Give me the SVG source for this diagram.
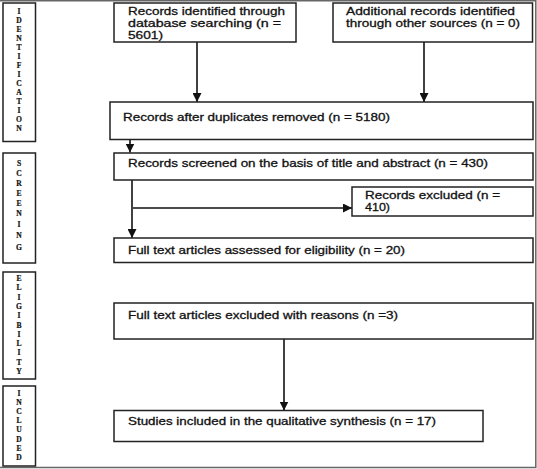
<svg xmlns="http://www.w3.org/2000/svg" width="537" height="469" viewBox="0 0 537 469">
<defs>
<marker id="ahs" viewBox="0 0 10 10" refX="10" refY="5" markerWidth="9" markerHeight="9" orient="auto" markerUnits="userSpaceOnUse">
<path d="M0,0 L10,5 L0,10 z" fill="#111"/>
</marker>
</defs>
<style>
.box{fill:#fff;stroke:#222;stroke-width:1.5}
.side{fill:#fff;stroke:#222;stroke-width:1.5}
.t{font-family:"Liberation Sans",Arial,sans-serif;font-size:11px;fill:#111;stroke:#111;stroke-width:0.3}
.v{font-family:"Liberation Serif","DejaVu Serif",serif;font-size:7.6px;font-weight:bold;fill:#111;stroke:#111;stroke-width:0.2;text-anchor:middle}
.c{stroke:#111;stroke-width:1.6;fill:none}
.frame{stroke:#666;stroke-width:1.5;fill:none}
</style>
<rect width="537" height="469" fill="#fff"/>
<path class="frame" d="M0,0.8 H535.8 V467.5 H0"/>

<g id="side-identification">
<rect class="side" x="3" y="3" width="32.5" height="138.5"/>
<text class="v"><tspan x="19" y="13.5">I</tspan><tspan x="19" y="22.5">D</tspan><tspan x="19" y="31.5">E</tspan><tspan x="19" y="40.5">N</tspan><tspan x="19" y="50">T</tspan><tspan x="19" y="59">I</tspan><tspan x="19" y="68">F</tspan><tspan x="19" y="77">I</tspan><tspan x="19" y="86">C</tspan><tspan x="19" y="95">A</tspan><tspan x="19" y="104">T</tspan><tspan x="19" y="113">I</tspan><tspan x="19" y="122">O</tspan><tspan x="19" y="131">N</tspan></text>
</g>
<g id="side-screening">
<rect class="side" x="3" y="153" width="32.5" height="110"/>
<text class="v"><tspan x="19" y="165.5">S</tspan><tspan x="19" y="175.5">C</tspan><tspan x="19" y="185.5">R</tspan><tspan x="19" y="195.5">E</tspan><tspan x="19" y="205.5">E</tspan><tspan x="19" y="215.5">N</tspan><tspan x="19" y="227">I</tspan><tspan x="19" y="238">N</tspan><tspan x="19" y="249.5">G</tspan></text>
</g>
<g id="side-eligibility">
<rect class="side" x="3" y="272" width="32.5" height="107"/>
<text class="v"><tspan x="19" y="281">E</tspan><tspan x="19" y="290.3">L</tspan><tspan x="19" y="299.6">I</tspan><tspan x="19" y="308.9">G</tspan><tspan x="19" y="318.2">I</tspan><tspan x="19" y="327.5">B</tspan><tspan x="19" y="336.8">I</tspan><tspan x="19" y="346.1">L</tspan><tspan x="19" y="355.4">I</tspan><tspan x="19" y="364.7">T</tspan><tspan x="19" y="374">Y</tspan></text>
</g>
<g id="side-included">
<rect class="side" x="3" y="386" width="32.5" height="80"/>
<text class="v"><tspan x="19" y="396">I</tspan><tspan x="19" y="405.1">N</tspan><tspan x="19" y="414.2">C</tspan><tspan x="19" y="423.3">L</tspan><tspan x="19" y="432.4">U</tspan><tspan x="19" y="441.5">D</tspan><tspan x="19" y="450.6">E</tspan><tspan x="19" y="459.7">D</tspan></text>
</g>

<g id="connectors">
<line class="c" x1="197" y1="42" x2="197" y2="102" marker-end="url(#ahs)"/>
<line class="c" x1="424" y1="42" x2="424" y2="102" marker-end="url(#ahs)"/>
<line class="c" x1="130" y1="139.5" x2="130" y2="152.5" marker-end="url(#ahs)"/>
<line class="c" x1="132" y1="180" x2="132" y2="238" marker-end="url(#ahs)"/>
<line class="c" x1="133" y1="208" x2="352" y2="208" marker-end="url(#ahs)"/>
<line class="c" x1="284" y1="339" x2="284" y2="410.5" marker-end="url(#ahs)"/>
</g>

<g id="n-database">
<rect class="box" x="114" y="3" width="182" height="39"/>
<text class="t" x="128" y="15" textLength="157" lengthAdjust="spacingAndGlyphs">Records identified through</text>
<text class="t" x="128" y="27" textLength="153" lengthAdjust="spacingAndGlyphs">database searching (n =</text>
<text class="t" x="128" y="38.5" textLength="35" lengthAdjust="spacingAndGlyphs">5601)</text>
</g>
<g id="n-other">
<rect class="box" x="333" y="3" width="199.5" height="39"/>
<text class="t" x="346" y="15" textLength="169" lengthAdjust="spacingAndGlyphs">Additional records identified</text>
<text class="t" x="346" y="27" textLength="174" lengthAdjust="spacingAndGlyphs">through other sources (n = 0)</text>
</g>
<g id="n-dedup">
<rect class="box" x="110" y="102" width="423" height="37.5"/>
<text class="t" x="123" y="120.5" textLength="267" lengthAdjust="spacingAndGlyphs">Records after duplicates removed (n = 5180)</text>
</g>
<g id="n-screened">
<rect class="box" x="114" y="153" width="419" height="27"/>
<text class="t" x="128" y="167" textLength="360" lengthAdjust="spacingAndGlyphs">Records screened on the basis of title and abstract (n = 430)</text>
</g>
<g id="n-excluded">
<rect class="box" x="352" y="187" width="181" height="29"/>
<text class="t" x="365" y="198.5" textLength="135" lengthAdjust="spacingAndGlyphs">Records excluded (n =</text>
<text class="t" x="365" y="210.5" textLength="25" lengthAdjust="spacingAndGlyphs">410)</text>
</g>
<g id="n-fulltext">
<rect class="box" x="114" y="238" width="419" height="24.5"/>
<text class="t" x="128" y="253.5" textLength="277" lengthAdjust="spacingAndGlyphs">Full text articles assessed for eligibility (n = 20)</text>
</g>
<g id="n-fulltext-excluded">
<rect class="box" x="114" y="303" width="419" height="36"/>
<text class="t" x="128" y="318.5" textLength="270" lengthAdjust="spacingAndGlyphs">Full text articles excluded with reasons (n =3)</text>
</g>
<g id="n-included">
<rect class="box" x="114" y="410.5" width="369" height="31"/>
<text class="t" x="128" y="424.5" textLength="308" lengthAdjust="spacingAndGlyphs">Studies included in the qualitative synthesis (n = 17)</text>
</g>
</svg>
